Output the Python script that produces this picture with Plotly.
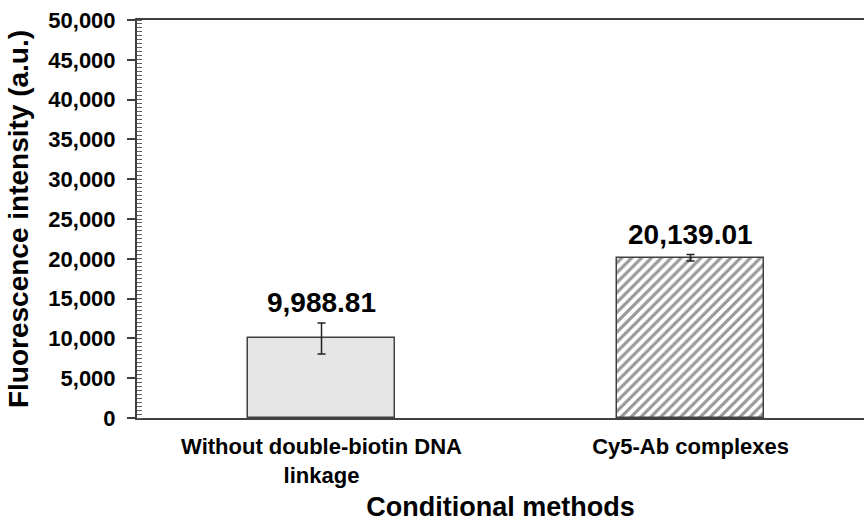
import plotly.graph_objects as go

categories = ["Without double-biotin DNA<br>linkage", "Cy5-Ab complexes"]
values = [9988.81, 20139.01]
errors = [1950, 400]
y_ticks = [0, 5000, 10000, 15000, 20000, 25000, 30000, 35000, 40000, 45000, 50000]

FONT = "Liberation Sans, Arial, sans-serif"
DARK = "#404040"

x_pos = [0, 1]

fig = go.Figure()
fig.add_trace(go.Bar(
    x=[x_pos[0]], y=[values[0]],
    width=0.40,
    marker=dict(color="#e6e6e6", line=dict(color=DARK, width=1.5)),
    error_y=dict(type="data", array=[errors[0]], color="#222222", thickness=1.5, width=4),
    showlegend=False,
))
fig.add_trace(go.Bar(
    x=[x_pos[1]], y=[values[1]],
    width=0.40,
    marker=dict(color="white", line=dict(color=DARK, width=1.5),
                pattern=dict(shape="/", fgcolor="#333333", bgcolor="white", size=7, solidity=0.45)),
    error_y=dict(type="data", array=[errors[1]], color="#222222", thickness=1.5, width=4),
    showlegend=False,
))

for xp, v, e in zip(x_pos, values, errors):
    fig.add_annotation(x=xp, y=v + e, text=f"<b>{v:,.2f}</b>", showarrow=False,
                       yanchor="bottom", yshift=3,
                       font=dict(family=FONT, size=28, color="black"))

fig.update_layout(
    width=864, height=523,
    margin=dict(l=137, r=0, t=20, b=105),
    paper_bgcolor="white", plot_bgcolor="white",
    font=dict(family=FONT, color="black"),
    bargap=0,
)
fig.update_xaxes(
    automargin=False,
    range=[-0.5, 1.47],
    tickmode="array", tickvals=x_pos, ticktext=[f"<b>{c}</b>" for c in categories],
    tickfont=dict(family=FONT, size=22, color="black"),
    ticklabelstandoff=8,
    showline=True, linecolor=DARK, linewidth=2, mirror=True,
    ticks="", showgrid=False, zeroline=False,
    title=dict(text="<b>Conditional methods</b>", font=dict(family=FONT, size=27, color="black"), standoff=10),
)
fig.update_yaxes(
    automargin=False,
    range=[0, 50000],
    tickmode="array", tickvals=y_ticks, ticktext=[f"<b>{t:,}</b>" for t in y_ticks],
    tickfont=dict(family=FONT, size=22, color="black"),
    ticklabelstandoff=7,
    showline=True, linecolor=DARK, linewidth=2,
    ticks="outside", ticklen=8, tickwidth=1.5, tickcolor=DARK,
    minor=dict(ticks="inside", ticklen=5, tickwidth=1.2, tickcolor="#606060", dtick=500, showgrid=False),
    showgrid=False, zeroline=False,
    title=dict(text="<b>Fluorescence intensity (a.u.)</b>", font=dict(family=FONT, size=28, color="black"), standoff=12),
)

fig.write_html("out.html",
               config={"displayModeBar": False},
               post_script="document.body.style.margin='0px';document.body.style.overflow='hidden';")
